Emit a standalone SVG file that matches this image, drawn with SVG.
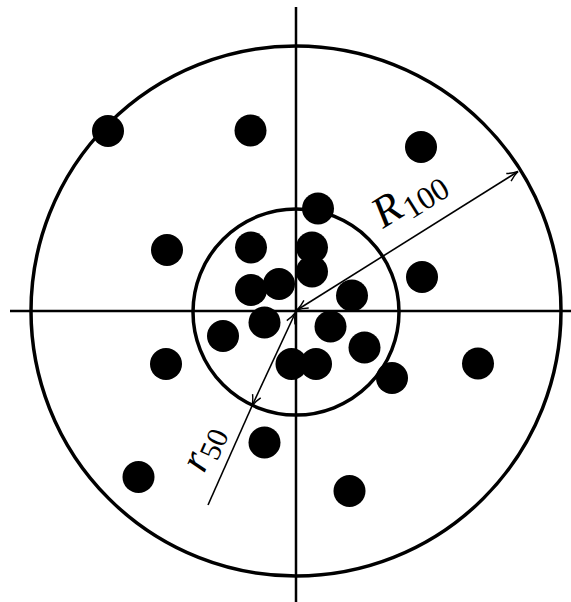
<svg xmlns="http://www.w3.org/2000/svg" width="571" height="602" viewBox="0 0 571 602">
<defs>
<style>
.axis{stroke:#000;stroke-width:2.5;fill:none}
.ring{stroke:#000;stroke-width:3.5;fill:none}
.dim{stroke:#000;stroke-width:1.6;fill:none}
.dot{fill:#000}
.lbl{font-family:"Liberation Serif","DejaVu Serif",serif;fill:#000}
.it{font-style:italic}
</style>
<marker id="ah" viewBox="-12 -6 14 12" refX="0" refY="0" markerWidth="14" markerHeight="12" markerUnits="userSpaceOnUse" orient="auto-start-reverse">
<path d="M-11,-4.5 Q-5,-1 0,0 Q-5,1 -11,4.5" stroke="#000" stroke-width="1.4" fill="none"/>
</marker>
</defs>
<g id="axes">
<line class="axis" x1="296" y1="7" x2="296" y2="602"/>
<line class="axis" x1="10" y1="311" x2="571" y2="311"/>
</g>
<g id="outer-circle"><circle class="ring" cx="296" cy="311" r="265"/></g>
<g id="inner-circle"><circle class="ring" cx="296" cy="312" r="103"/></g>
<g id="points">
<circle class="dot" cx="108" cy="131" r="16"/>
<circle class="dot" cx="250.5" cy="130.5" r="16"/>
<circle class="dot" cx="421" cy="147" r="16"/>
<circle class="dot" cx="318" cy="208.5" r="16"/>
<circle class="dot" cx="167" cy="250" r="16"/>
<circle class="dot" cx="251" cy="247.5" r="16"/>
<circle class="dot" cx="312" cy="247.5" r="16"/>
<circle class="dot" cx="312" cy="271.5" r="16"/>
<circle class="dot" cx="251" cy="290" r="16"/>
<circle class="dot" cx="279" cy="284" r="16"/>
<circle class="dot" cx="422" cy="277" r="16"/>
<circle class="dot" cx="352" cy="295.5" r="16"/>
<circle class="dot" cx="264.5" cy="322.5" r="16"/>
<circle class="dot" cx="223" cy="336" r="16"/>
<circle class="dot" cx="330.5" cy="326.5" r="16"/>
<circle class="dot" cx="364.5" cy="347.5" r="16"/>
<circle class="dot" cx="291.5" cy="364" r="16"/>
<circle class="dot" cx="316" cy="364" r="16"/>
<circle class="dot" cx="392" cy="378" r="16"/>
<circle class="dot" cx="166" cy="364" r="16"/>
<circle class="dot" cx="478" cy="363.5" r="16"/>
<circle class="dot" cx="264.5" cy="442.5" r="16"/>
<circle class="dot" cx="138.5" cy="477" r="16"/>
<circle class="dot" cx="349.5" cy="491" r="16"/>
</g>
<g id="connectors">
<line class="dim" x1="297" y1="310" x2="518" y2="171.5" marker-start="url(#ah)" marker-end="url(#ah)"/>
<line class="dim" x1="295.5" y1="312.5" x2="252" y2="406" marker-start="url(#ah)" marker-end="url(#ah)"/>
<line class="dim" x1="252" y1="406" x2="208" y2="505"/>
</g>
<g id="label-R100">
<text class="lbl" transform="translate(383,229) rotate(-32)" font-size="44"><tspan class="it">R</tspan><tspan font-size="32" dx="2" dy="7">100</tspan></text>
</g>
<g id="label-r50">
<text class="lbl" transform="translate(204,474) rotate(-66)" font-size="42"><tspan class="it">r</tspan><tspan font-size="30" dy="7">50</tspan></text>
</g>
</svg>
